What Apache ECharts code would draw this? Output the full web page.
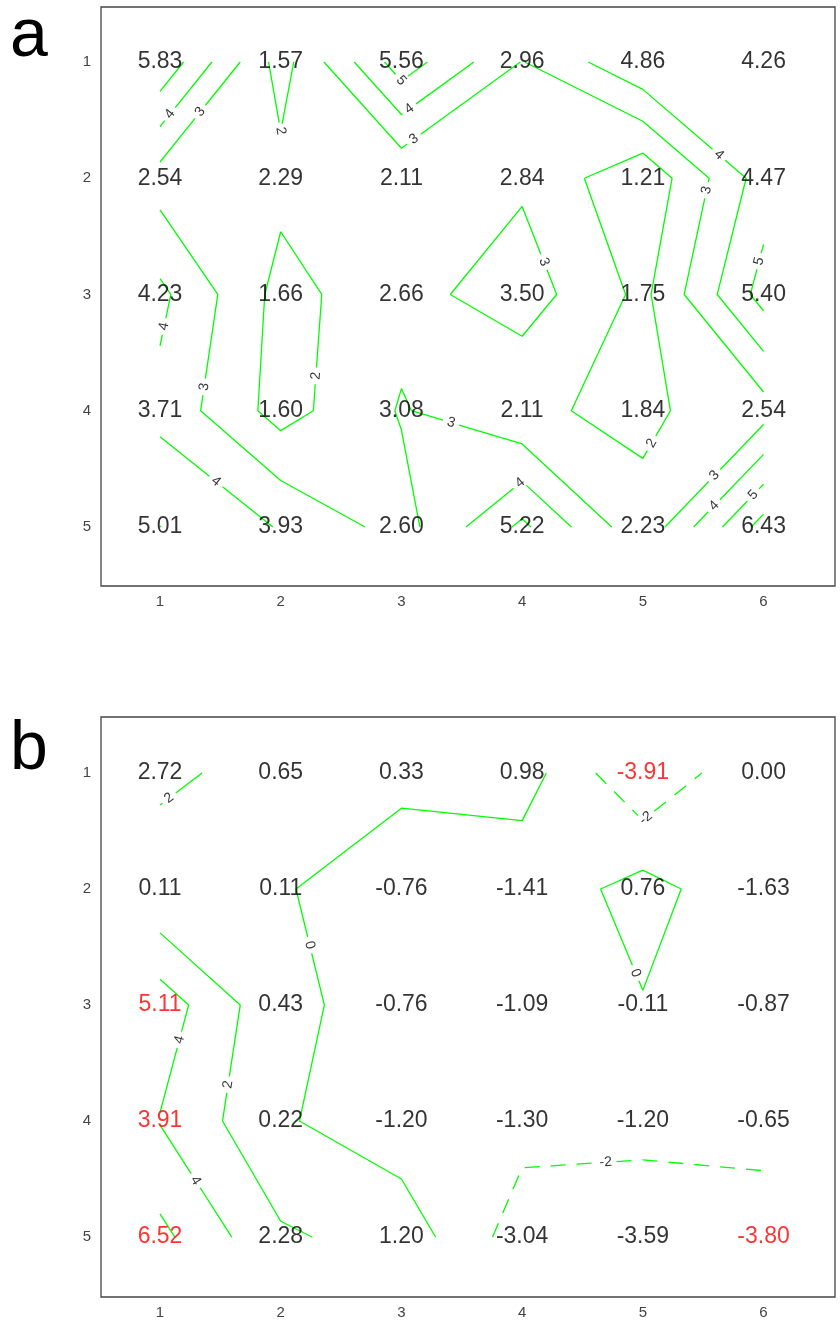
<!DOCTYPE html>
<html><head><meta charset="utf-8">
<script src="https://cdn.jsdelivr.net/npm/echarts@6/dist/echarts.min.js"></script>
<style>html,body{margin:0;padding:0;background:#fff}#c{width:840px;height:1320px}</style>
</head><body><div id="c"></div>
<script>
// ---- data ----
const xTicks = [1, 2, 3, 4, 5, 6];
const yTicks = [1, 2, 3, 4, 5];

const aRow1 = [5.83, 1.57, 5.56, 2.96, 4.86, 4.26];
const aRow2 = [2.54, 2.29, 2.11, 2.84, 1.21, 4.47];
const aRow3 = [4.23, 1.66, 2.66, 3.50, 1.75, 5.40];
const aRow4 = [3.71, 1.60, 3.08, 2.11, 1.84, 2.54];
const aRow5 = [5.01, 3.93, 2.60, 5.22, 2.23, 6.43];

const bRow1 = [2.72, 0.65, 0.33, 0.98, -3.91, 0.00];
const bRow2 = [0.11, 0.11, -0.76, -1.41, 0.76, -1.63];
const bRow3 = [5.11, 0.43, -0.76, -1.09, -0.11, -0.87];
const bRow4 = [3.91, 0.22, -1.20, -1.30, -1.20, -0.65];
const bRow5 = [6.52, 2.28, 1.20, -3.04, -3.59, -3.80];

const aLevels = [1, 2, 3, 4, 5, 6];
const bLevels = [-4, -2, 0, 2, 4, 6];
const redCutoff = 3.7;

// ---- layout / style ----
const FONT = 'Liberation Sans, Arial, sans-serif';
const GREEN = '#00ff00';
const panels = [
  { grid: { left: 101, top: 7, width: 734, height: 579 }, xr: [0.511, 6.592], yr: [0.527, 5.508],
    rows: [aRow1, aRow2, aRow3, aRow4, aRow5], levels: aLevels, letter: 'a', letterY: 71, red: false },
  { grid: { left: 101, top: 717, width: 734, height: 580 }, xr: [0.511, 6.592], yr: [0.517, 5.517],
    rows: [bRow1, bRow2, bRow3, bRow4, bRow5], levels: bLevels, letter: 'b', letterY: 784, red: true }
];

const chart = echarts.init(document.getElementById('c'), null, { renderer: 'canvas' });

function valueSeries(p, gi) {
  const data = [];
  p.rows.forEach((row, j) => row.forEach((v, i) => {
    const isRed = p.red && Math.abs(v) > redCutoff;
    data.push({ value: [xTicks[i], yTicks[j], v], label: { color: isRed ? '#ff0000' : '#000000' } });
  }));
  return {
    type: 'scatter', xAxisIndex: gi, yAxisIndex: gi, data, symbolSize: 0, silent: true, z: 10,
    itemStyle: { color: 'rgba(0,0,0,0)' },
    label: { show: true, position: 'inside', fontSize: 23, fontFamily: FONT,
      formatter: q => q.value[2].toFixed(2) }
  };
}

const baseOption = {
  animation: false,
  backgroundColor: '#ffffff',
  grid: panels.map(p => Object.assign({ show: true, borderColor: '#444', borderWidth: 1.3, backgroundColor: 'rgba(0,0,0,0)' }, p.grid)),
  xAxis: panels.map((p, gi) => ({
    gridIndex: gi, type: 'value', min: p.xr[0], max: p.xr[1],
    axisLine: { show: false }, axisTick: { show: false }, splitLine: { show: false },
    axisLabel: { customValues: xTicks, color: '#444', fontSize: 15, fontFamily: FONT, margin: 8 }
  })),
  yAxis: panels.map((p, gi) => ({
    gridIndex: gi, type: 'value', inverse: true, min: p.yr[0], max: p.yr[1],
    axisLine: { show: false }, axisTick: { show: false }, splitLine: { show: false },
    axisLabel: { customValues: yTicks, color: '#444', fontSize: 15, fontFamily: FONT, margin: 10 }
  })),
  graphic: panels.map(p => ({
    type: 'text', x: 10, y: p.letterY,
    style: { text: p.letter, font: '68px ' + FONT, fill: '#000', textVerticalAlign: 'bottom', verticalAlign: 'bottom' }
  })),
  series: panels.map((p, gi) => valueSeries(p, gi))
};
chart.setOption(baseOption);

// ---- marching squares contour lines ----
function contourLines(rows, level) {
  const ny = rows.length, nx = rows[0].length;
  const segs = [];
  const above = v => v > level;
  const cross = (key, x1, y1, v1, x2, y2, v2) => {
    const t = (level - v1) / (v2 - v1);
    return { key, x: x1 + t * (x2 - x1), y: y1 + t * (y2 - y1) };
  };
  for (let j = 0; j < ny - 1; j++) {
    for (let i = 0; i < nx - 1; i++) {
      const tl = rows[j][i], tr = rows[j][i + 1], bl = rows[j + 1][i], br = rows[j + 1][i + 1];
      const X0 = xTicks[i], X1 = xTicks[i + 1], Y0 = yTicks[j], Y1 = yTicks[j + 1];
      const E = {};
      if (above(tl) !== above(tr)) E.top = cross('h' + i + '_' + j, X0, Y0, tl, X1, Y0, tr);
      if (above(bl) !== above(br)) E.bottom = cross('h' + i + '_' + (j + 1), X0, Y1, bl, X1, Y1, br);
      if (above(tl) !== above(bl)) E.left = cross('v' + i + '_' + j, X0, Y0, tl, X0, Y1, bl);
      if (above(tr) !== above(br)) E.right = cross('v' + (i + 1) + '_' + j, X1, Y0, tr, X1, Y1, br);
      const ks = Object.keys(E);
      if (ks.length === 2) segs.push([E[ks[0]], E[ks[1]]]);
      else if (ks.length === 4) {
        const c = (tl + tr + bl + br) / 4;
        if (above(c) === above(tl)) { segs.push([E.top, E.right]); segs.push([E.left, E.bottom]); }
        else { segs.push([E.top, E.left]); segs.push([E.right, E.bottom]); }
      }
    }
  }
  const adj = {};
  segs.forEach((s, idx) => s.forEach(pt => { (adj[pt.key] = adj[pt.key] || []).push(idx); }));
  const used = new Array(segs.length).fill(false);
  const lines = [];
  function walk(startIdx, startKey) {
    let idx = startIdx;
    let cur = segs[idx][0].key === startKey ? segs[idx][0] : segs[idx][1];
    const line = [cur];
    while (idx !== -1 && !used[idx]) {
      used[idx] = true;
      const s = segs[idx];
      const nxt = s[0].key === cur.key ? s[1] : s[0];
      line.push(nxt);
      cur = nxt;
      const cand = adj[cur.key].filter(k => !used[k]);
      idx = cand.length ? cand[0] : -1;
    }
    return line;
  }
  Object.keys(adj).forEach(k => {
    if (adj[k].length === 1 && !used[adj[k][0]]) lines.push(walk(adj[k][0], k));
  });
  segs.forEach((s, idx) => { if (!used[idx]) lines.push(walk(idx, s[0].key)); });
  return lines;
}

const LABEL_FS = 14;
function textWidth(t) {
  let w = 0;
  for (const ch of t) w += (ch === '-' ? 0.333 : 0.556) * LABEL_FS;
  return w;
}

const lineSeries = [];
const labelSeries = [];
panels.forEach((p, gi) => {
  const labelData = [];
  const placed = [];
  // pixel centres of the value texts, used to keep contour labels clear of them
  const textCentres = [];
  p.rows.forEach((row, j) => row.forEach((v, i) => textCentres.push(chart.convertToPixel({ gridIndex: gi }, [xTicks[i], yTicks[j]]))));
  p.levels.forEach(level => {
    const style = { color: GREEN, width: 1.3, type: level < 0 ? [15, 11] : 'solid' };
    contourLines(p.rows, level).forEach(line => {
      const px = line.map(q => chart.convertToPixel({ gridIndex: gi }, [q.x, q.y]));
      const cum = [0];
      for (let k = 1; k < px.length; k++) cum.push(cum[k - 1] + Math.hypot(px[k][0] - px[k - 1][0], px[k][1] - px[k - 1][1]));
      const L = cum[cum.length - 1];
      const toData = arr => arr.map(q => [q.x, q.y]);
      if (L < 1) return;
      const txt = String(level);
      if (L < 45) {
        lineSeries.push({ type: 'line', xAxisIndex: gi, yAxisIndex: gi, data: toData(line), showSymbol: false, silent: true, z: 3, lineStyle: style });
        return;
      }
      const gap = textWidth(txt) + 9;
      const at = s => {
        let k = 0;
        while (k < cum.length - 2 && cum[k + 1] < s) k++;
        const segL = cum[k + 1] - cum[k];
        const t = segL > 0 ? (s - cum[k]) / segL : 0;
        return {
          k, x: line[k].x + t * (line[k + 1].x - line[k].x), y: line[k].y + t * (line[k + 1].y - line[k].y),
          px: px[k][0] + t * (px[k + 1][0] - px[k][0]), py: px[k][1] + t * (px[k + 1][1] - px[k][1]),
          ang: Math.atan2(-(px[k + 1][1] - px[k][1]), px[k + 1][0] - px[k][0]) * 180 / Math.PI
        };
      };
      // choose a label spot: clear of value texts and other labels, near the middle
      let best = L / 2, bestScore = -1e9;
      for (let s = gap / 2 + 3; s <= L - gap / 2 - 3; s += 1.5) {
        const q = at(s);
        let dmin = 40;
        textCentres.forEach(c => {
          const dx = Math.max(Math.abs(q.px - c[0]) - 27, 0), dy = Math.max(Math.abs(q.py - c[1]) - 10, 0);
          dmin = Math.min(dmin, Math.hypot(dx, dy));
        });
        placed.forEach(c => { dmin = Math.min(dmin, Math.hypot(q.px - c[0], q.py - c[1]) - 8); });
        const score = Math.min(dmin, 22) - 0.05 * Math.abs(s - L / 2);
        if (score > bestScore) { bestScore = score; best = s; }
      }
      const a1 = at(best - gap / 2), a2 = at(best + gap / 2), m = at(best);
      placed.push([m.px, m.py]);
      const piece1 = line.slice(0, a1.k + 1).concat([{ x: a1.x, y: a1.y }]);
      const piece2 = [{ x: a2.x, y: a2.y }].concat(line.slice(a2.k + 1));
      [piece1, piece2].forEach(pc => lineSeries.push({
        type: 'line', xAxisIndex: gi, yAxisIndex: gi, data: toData(pc), showSymbol: false, silent: true, z: 3, lineStyle: style
      }));
      let ang = m.ang;
      if (ang > 90) ang -= 180;
      if (ang < -90) ang += 180;
      labelData.push({ value: [m.x, m.y], txt, label: { rotate: ang } });
    });
  });
  labelSeries.push({
    type: 'scatter', xAxisIndex: gi, yAxisIndex: gi, data: labelData, symbolSize: 0, silent: true, z: 6,
    itemStyle: { color: 'rgba(0,0,0,0)' },
    label: { show: true, position: 'inside', fontSize: LABEL_FS, fontFamily: FONT, color: '#000',
      formatter: q => q.data.txt }
  });
});

chart.setOption({ series: baseOption.series.concat(lineSeries, labelSeries) });
</script>
</body></html>
